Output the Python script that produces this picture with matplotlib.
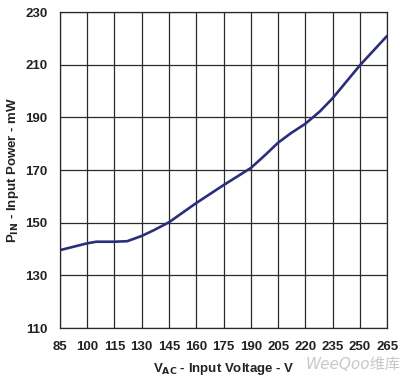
import matplotlib
matplotlib.use("Agg")
import matplotlib.pyplot as plt

# input voltage (V) vs input power (mW)
v_ac = [85, 100, 105, 115, 122, 130, 137, 145, 160, 175, 190, 198, 205, 212, 220, 228, 235, 250, 265]
p_in = [139.6, 142.2, 142.8, 142.8, 143.0, 145.0, 147.3, 150.2, 157.5, 164.3, 170.8, 175.8, 180.4, 184.0, 187.6, 192.3, 197.3, 209.8, 221.0]

x_ticks = list(range(85, 266, 15))
y_ticks = list(range(110, 231, 20))

plt.rcParams["font.family"] = ["Liberation Sans", "DejaVu Sans"]

fig = plt.figure(figsize=(4.05, 3.78), dpi=100)
ax = fig.add_axes([0.148, 0.132, 0.808, 0.836])

ax.plot(v_ac, p_in, color="#2B2E78", linewidth=1.9, solid_capstyle="round",
        solid_joinstyle="round")

ax.set_xlim(85, 265)
ax.set_ylim(110, 230)
ax.set_xticks(x_ticks)
ax.set_yticks(y_ticks)
ax.grid(True, color="#2a2a2a", linewidth=0.9)
ax.set_axisbelow(True)
for s in ax.spines.values():
    s.set_color("#2a2a2a")
    s.set_linewidth(0.9)
ax.tick_params(length=0, labelsize=9.5, pad=9)
for lbl in ax.get_xticklabels() + ax.get_yticklabels():
    lbl.set_fontweight("bold")
    lbl.set_color("#222222")

ax.set_xlabel(r"V$_\mathbf{AC}$ - Input Voltage - V", fontsize=9.5, fontweight="bold",
              color="#222222", labelpad=6)
ax.set_ylabel(r"P$_\mathbf{IN}$ - Input Power - mW", fontsize=9.5, fontweight="bold",
              color="#222222", labelpad=3)

# watermark
fig.text(0.99, 0.015, "WeeQoo维库", ha="right", va="bottom", fontsize=11,
         style="italic", color="#c8c8c8",
         family=["DejaVu Sans", "Noto Sans CJK SC"])

fig.savefig("out.png", dpi=100)
